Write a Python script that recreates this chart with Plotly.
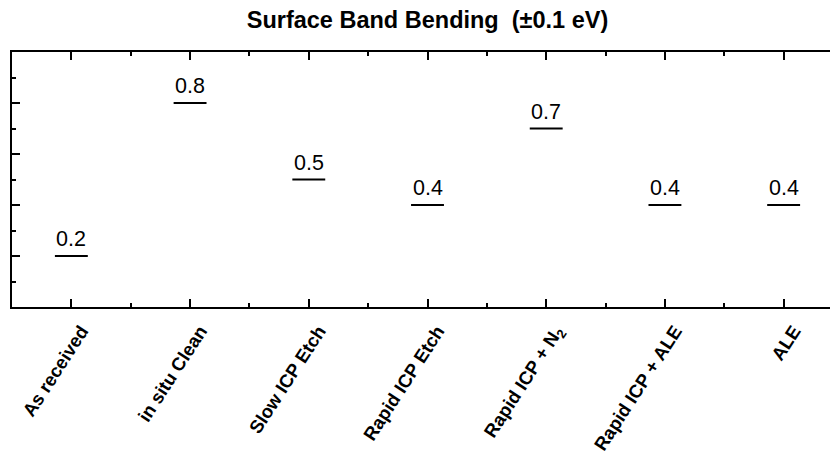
import plotly.graph_objects as go

# surface band bending per treatment (eV, +/-0.1)
treatments = ["As received", "in situ Clean", "Slow ICP Etch", "Rapid ICP Etch",
              "Rapid ICP + N<sub>2</sub>", "Rapid ICP + ALE", "ALE"]
band_bending = [0.2, 0.8, 0.5, 0.4, 0.7, 0.4, 0.4]
value_labels = ["0.2", "0.8", "0.5", "0.4", "0.7", "0.4", "0.4"]

x_pos = list(range(len(treatments)))
font_family = "Liberation Sans, Arial, sans-serif"

fig = go.Figure()

# short horizontal bars marking each value (line-ew is drawn 1.4x its size)
fig.add_trace(go.Scatter(
    x=x_pos, y=band_bending, mode="markers",
    marker=dict(symbol="line-ew", size=23.5, color="black",
                line=dict(width=2.2, color="black")),
    hoverinfo="skip", showlegend=False))

# value labels sitting on top of the bars
for xv, yv, lab in zip(x_pos, band_bending, value_labels):
    fig.add_annotation(x=xv, y=yv, text=lab, showarrow=False,
                       xanchor="center", yanchor="bottom", yshift=3,
                       font=dict(family=font_family, size=21.5, color="black"))

# the page body adds an 8px offset, margins below account for it
fig.update_layout(
    width=838, height=457,
    margin=dict(l=4, r=3, t=44, b=158),
    plot_bgcolor="white", paper_bgcolor="white",
    title=dict(text="Surface Band Bending \u00a0(±0.1 eV)",
               x=419.5 / 838, xanchor="center",
               y=1 - 12 / 457, yanchor="middle",
               font=dict(family=font_family, size=23.5, color="black", weight="bold")),
    xaxis=dict(
        range=[-0.5, 6.5], tickvals=x_pos, ticktext=treatments,
        tickangle=-57, ticks="inside", ticklen=8, tickwidth=1.8, tickcolor="black",
        minor=dict(dtick=0.5, tick0=0, ticks="inside", ticklen=4,
                   tickwidth=1.8, tickcolor="black"),
        showline=True, linewidth=2, linecolor="black", mirror="ticks",
        showgrid=False, zeroline=False, automargin=False,
        ticklabelshift=10, ticklabelstandoff=4,
        tickfont=dict(family=font_family, size=18.5, color="black", weight="bold")),
    yaxis=dict(
        range=[0, 1], dtick=0.2, tick0=0, ticks="inside", ticklen=8,
        tickwidth=1.8, tickcolor="black",
        minor=dict(dtick=0.1, tick0=0, ticks="inside", ticklen=4,
                   tickwidth=1.8, tickcolor="black"),
        showline=True, linewidth=2, linecolor="black", mirror="ticks",
        automargin=False,
        showticklabels=False, showgrid=False, zeroline=False),
)

fig.write_html("out.html")
